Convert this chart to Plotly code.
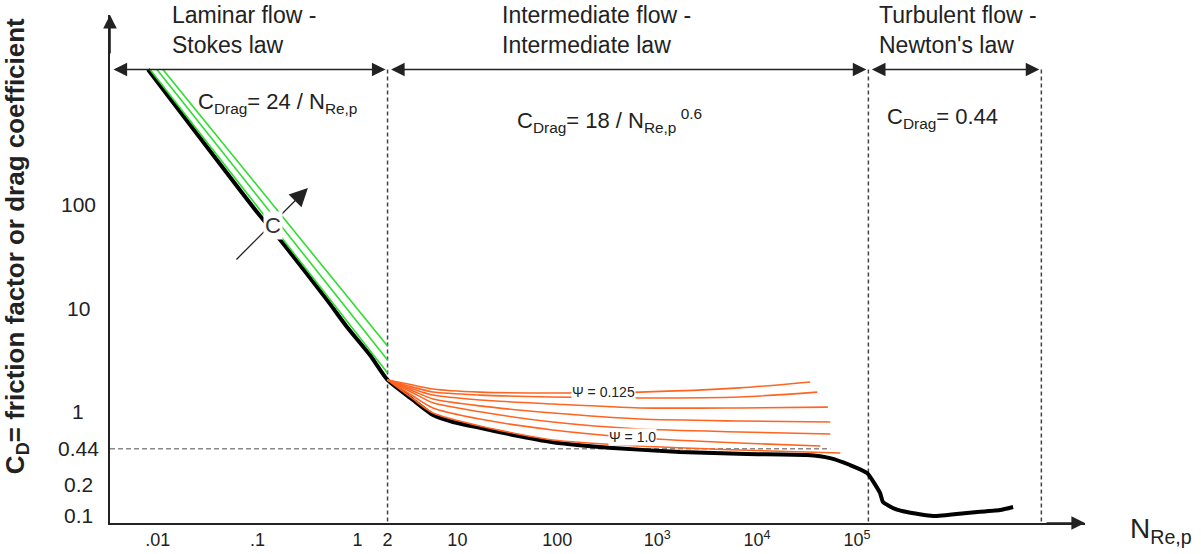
import numpy as np
import plotly.graph_objects as go

# ---------------- data ----------------
# x tick values / labels (particle Reynolds number)
x_tick_vals = [0.01, 0.1, 1, 2, 10, 100, 1e3, 1e4, 1e5]
x_tick_text = [".01", ".1", "1", "2", "10", "100", "10<sup>3</sup>", "10<sup>4</sup>", "10<sup>5</sup>"]
# y tick values / labels (drag coefficient)
y_tick_vals = [100, 10, 1, 0.44, 0.2, 0.1]
y_tick_text = ["100", "10", "1", "0.44", "0.2", "0.1"]

# standard drag curve (sphere)
black_re = [0.0080, 0.0986, 0.1755, 0.495, 0.785, 1.334, 2, 3.59, 5.70, 9.04, 16.8, 36.1,
            90.6, 361, 1690, 7920, 31500, 53600, 85100, 1.26e5, 1.70e5, 1.82e5, 2.40e5,
            3.16e5, 5.77e5, 1.26e6, 2.70e6, 3.65e6]
black_cd = [2000, 84.5, 43.4, 12.0, 6.58, 3.53, 2.03, 1.30, 0.93, 0.797, 0.70, 0.598,
            0.51, 0.448, 0.410, 0.392, 0.383, 0.358, 0.307, 0.257, 0.165, 0.135, 0.116,
            0.108, 0.099, 0.106, 0.113, 0.121]

# laminar-region lines for increasing C (green)
green_re_start = [0.0113, 0.00984, 0.00838]
green_cd_start = [2000, 2000, 2000]
green_re_end = [2, 2, 2]
green_cd_end = [4.3, 3.16, 2.37]

# intermediate-region curves for sphericity Psi (orange), Psi = 0.125 (top) ... 1.0
orange_re_mid = [2, 3.6, 5.7, 16.8, 90, 670, 6700]
orange_re_end = [34000, 40000, 51000, 54000, 54000, 43000, 68000]
orange_cd = [
    [2.03, 1.81, 1.66, 1.55, 1.52, 1.55, 1.70, 1.94],
    [2.03, 1.73, 1.55, 1.45, 1.39, 1.36, 1.39, 1.55],
    [2.03, 1.66, 1.45, 1.30, 1.19, 1.09, 1.09, 1.11],
    [2.03, 1.59, 1.33, 1.14, 0.974, 0.852, 0.815, 0.797],
    [2.03, 1.52, 1.22, 1.00, 0.797, 0.682, 0.639, 0.611],
    [2.03, 1.42, 1.09, 0.852, 0.668, 0.559, 0.500, 0.468],
    [2.03, 1.33, 0.974, 0.730, 0.535, 0.468, 0.428, 0.401],
]

# flow-regime boundaries and labels
regime_bounds = [2, 1.3e5, 7e6]
regime_top_cd = 2000
newton_cd = 0.44
newton_line_end_re = 54000
regime_titles = ["Laminar flow -<br>Stokes law", "Intermediate flow -<br>Intermediate law",
                 "Turbulent flow -<br>Newton's law"]
regime_laws = ["C<sub>Drag</sub>= 24 / N<sub>Re,p</sub>",
               "C<sub>Drag</sub>= 18 / N<sub>Re,p</sub><sup> 0.6</sup>",
               "C<sub>Drag</sub>= 0.44"]
psi_labels = ["\u03a8 = 0.125", "\u03a8 = 1.0"]
psi_label_re = [290, 560]
psi_label_cd = [1.55, 0.571]
c_arrow_tail = (0.0594, 28.5)
c_arrow_head = (0.319, 144)
c_label_pos = (0.1426, 63.2)

# ---------------- figure ----------------
x_range = [-2.477, 7.282]
y_range = [-1.072, 3.826]
FONT = "Liberation Sans, Arial, sans-serif"
TXT = "#222222"

fig = go.Figure()

# regime boundary dashed lines
for xb in regime_bounds:
    fig.add_trace(go.Scatter(x=[xb, xb], y=[regime_top_cd, 10 ** y_range[0]], mode="lines",
                             line=dict(color="#444444", width=1.5, dash="4px,3px"),
                             hoverinfo="skip", showlegend=False))
# 0.44 dashed line
fig.add_trace(go.Scatter(x=[10 ** x_range[0], newton_line_end_re], y=[newton_cd, newton_cd],
                         mode="lines", line=dict(color="#8a8a8a", width=1.5, dash="5px,3px"),
                         hoverinfo="skip", showlegend=False))

# black standard curve
fig.add_trace(go.Scatter(x=black_re, y=black_cd, mode="lines",
                         line=dict(color="black", width=4, shape="spline", smoothing=0.5),
                         hoverinfo="skip", showlegend=False))

# green lines
for xs, ys, xe, ye in zip(green_re_start, green_cd_start, green_re_end, green_cd_end):
    fig.add_trace(go.Scatter(x=[xs, xe], y=[ys, ye], mode="lines",
                             line=dict(color="#2fdc2f", width=1.6),
                             hoverinfo="skip", showlegend=False))

# orange curves
for cd, xe in zip(orange_cd, orange_re_end):
    fig.add_trace(go.Scatter(x=orange_re_mid + [xe], y=cd, mode="lines",
                             line=dict(color="#ff6420", width=1.6, shape="spline", smoothing=0.7),
                             hoverinfo="skip", showlegend=False))

ann = []
# axis arrowheads
ann.append(dict(xref="paper", yref="paper", x=1, y=0, ax=-40, ay=0, text="", showarrow=True,
                arrowhead=2, arrowsize=1.7, arrowwidth=1.6, arrowcolor="#222"))
ann.append(dict(xref="paper", yref="paper", x=0, y=1, ax=0, ay=40, text="", showarrow=True,
                arrowhead=2, arrowsize=1.7, arrowwidth=1.6, arrowcolor="#222"))

# regime double arrows
edges = [10 ** x_range[0]] + regime_bounds
for a, b in zip(edges[:-1], edges[1:]):
    ann.append(dict(xref="x", yref="y", axref="x", ayref="y",
                    x=np.log10(b), y=np.log10(regime_top_cd),
                    ax=np.log10(a), ay=np.log10(regime_top_cd),
                    text="", showarrow=True, arrowside="end+start", arrowhead=2,
                    arrowsize=1.7, arrowwidth=1.6, arrowcolor="#222", standoff=2, startstandoff=2))

# regime titles and laws
title_x = [0.0615, 0.40, 0.7867]
law_x = [0.0882, 0.4154, 0.7949]
law_y = [0.826, 0.793, 0.797]
for t, xx in zip(regime_titles, title_x):
    ann.append(dict(xref="paper", yref="paper", x=xx, y=0.9705, xanchor="left", yanchor="middle",
                    align="left", text=t, showarrow=False, font=dict(family=FONT, size=23, color=TXT)))
for t, xx, yy in zip(regime_laws, law_x, law_y):
    ann.append(dict(xref="paper", yref="paper", x=xx, y=yy, xanchor="left", yanchor="middle",
                    align="left", text=t, showarrow=False, font=dict(family=FONT, size=22, color=TXT)))

# psi labels
for t, xx, yy in zip(psi_labels, psi_label_re, psi_label_cd):
    ann.append(dict(xref="x", yref="y", x=np.log10(xx), y=np.log10(yy), text=t, showarrow=False,
                    bgcolor="white", borderpad=0, font=dict(family=FONT, size=14, color=TXT)))

# C arrow and label
ann.append(dict(xref="x", yref="y", axref="x", ayref="y",
                x=np.log10(c_arrow_head[0]), y=np.log10(c_arrow_head[1]),
                ax=np.log10(c_arrow_tail[0]), ay=np.log10(c_arrow_tail[1]),
                text="", showarrow=True, arrowhead=2, arrowsize=2.8, arrowwidth=1.3, arrowcolor="#222"))
ann.append(dict(xref="x", yref="y", x=np.log10(c_label_pos[0]), y=np.log10(c_label_pos[1]),
                text="C", showarrow=False, bgcolor="white", borderpad=1,
                font=dict(family=FONT, size=22, color="#333")))

# y tick labels
for v, t in zip(y_tick_vals, y_tick_text):
    ann.append(dict(xref="paper", yref="y", x=-0.0328, y=np.log10(v), text=t, showarrow=False,
                    xanchor="center", yanchor="middle", font=dict(family=FONT, size=21, color=TXT)))

# axis titles
ann.append(dict(xref="paper", yref="paper", x=-0.0964, y=0.545, textangle=-90,
                text="<b>C<sub>D</sub>= friction factor or drag coefficient</b>", showarrow=False,
                xanchor="center", yanchor="middle", font=dict(family=FONT, size=26, color=TXT)))
ann.append(dict(xref="paper", yref="paper", x=1.0441, y=-0.0138, xanchor="left", yanchor="middle",
                text="N<sub>Re,p</sub>", showarrow=False, font=dict(family=FONT, size=28, color=TXT)))

fig.update_layout(
    width=1201, height=554,
    margin=dict(l=110, r=116, t=15, b=31, autoexpand=False),
    paper_bgcolor="white", plot_bgcolor="white",
    showlegend=False,
    annotations=ann,
    xaxis=dict(type="log", range=x_range, showgrid=False, zeroline=False, automargin=False,
               showline=True, linecolor="#222", linewidth=1.6,
               tickvals=x_tick_vals, ticktext=x_tick_text, ticks="", ticklen=0,
               tickfont=dict(family=FONT, size=18, color=TXT)),
    yaxis=dict(type="log", range=y_range, showgrid=False, zeroline=False, automargin=False,
               showline=True, linecolor="#222", linewidth=1.6, showticklabels=False, ticks=""),
)

fig.write_html("out.html", config={"displayModeBar": False})
